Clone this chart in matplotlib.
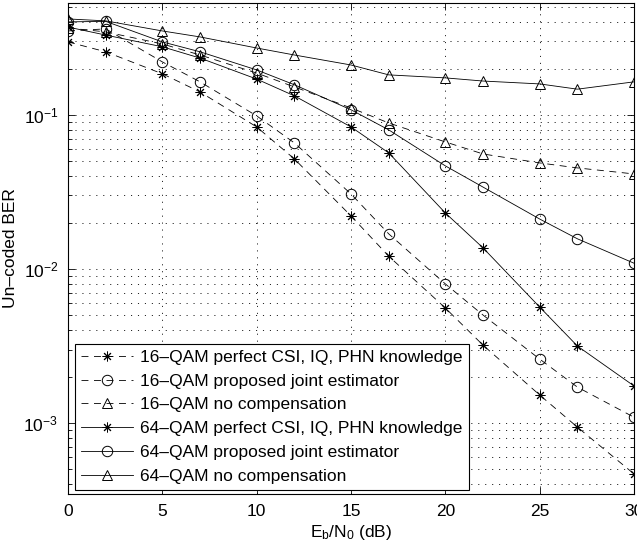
import numpy as np
import matplotlib
matplotlib.use('Agg')
import matplotlib.pyplot as plt

plt.rcParams['font.family'] = ['Liberation Sans', 'DejaVu Sans']
plt.rcParams['font.size'] = 12
plt.rcParams['lines.scale_dashes'] = False
plt.rcParams['mathtext.fontset'] = 'custom'
plt.rcParams['mathtext.rm'] = 'Liberation Sans'
plt.rcParams['mathtext.it'] = 'Liberation Sans'

ebn0 = [0, 2, 5, 7, 10, 12, 15, 17, 20, 22, 25, 27, 30]

# 16-QAM curves
qam16_perfect = [0.298, 0.257, 0.185, 0.141, 0.0836, 0.0518, 0.0221, 0.0121,
                 0.00558, 0.0032, 0.00152, 0.00094, 0.000467]
qam16_joint = [0.351, 0.362, 0.221, 0.164, 0.0986, 0.0658, 0.0307, 0.0169,
               0.0080, 0.00502, 0.0026, 0.00171, 0.00109]
qam16_nocomp = [0.367, 0.346, 0.289, 0.245, 0.187, 0.152, 0.111, 0.0887,
                0.0668, 0.0558, 0.0488, 0.0453, 0.0414]

# 64-QAM curves
qam64_perfect = [0.372, 0.330, 0.277, 0.234, 0.171, 0.133, 0.0836, 0.0567,
                 0.0231, 0.0137, 0.00566, 0.00316, 0.00174]
qam64_joint = [0.402, 0.405, 0.298, 0.257, 0.196, 0.157, 0.108, 0.080,
               0.0467, 0.034, 0.0211, 0.0157, 0.0109]
qam64_nocomp = [0.42, 0.408, 0.351, 0.321, 0.272, 0.245, 0.211, 0.182,
                0.174, 0.166, 0.159, 0.147, 0.164]

labels = ['16\u2013QAM perfect CSI, IQ, PHN knowledge',
          '16\u2013QAM proposed joint estimator',
          '16\u2013QAM no compensation',
          '64\u2013QAM perfect CSI, IQ, PHN knowledge',
          '64\u2013QAM proposed joint estimator',
          '64\u2013QAM no compensation']

fig = plt.figure(figsize=(6.37, 5.51), dpi=100)
ax = fig.add_axes([68 / 637, 1 - 494 / 551, 566 / 637, 491 / 551])

dash = (0, (5, 4))
star = (8, 2, 0)
common = dict(color='black', linewidth=0.6, markerfacecolor='none',
              markeredgecolor='black', markeredgewidth=0.7)

series = [
    (qam16_perfect, dash, star),
    (qam16_joint, dash, 'o'),
    (qam16_nocomp, dash, '^'),
    (qam64_perfect, '-', star),
    (qam64_joint, '-', 'o'),
    (qam64_nocomp, '-', '^'),
]
for (vals, ls, mk), lab in zip(series, labels):
    ms = 7 if mk == star else 7.5
    ax.semilogy(ebn0, vals, linestyle=ls, marker=mk, markersize=ms, label=lab, **common)

ax.set_xlim(0, 30)
ax.set_ylim(3.46e-4, 0.533)
ax.set_xticks([0, 5, 10, 15, 20, 25, 30])

ax.grid(True, which='major', linestyle=(0, (0.8, 4.2)), color='black', linewidth=0.6)
ax.grid(True, which='minor', axis='y', linestyle=(0, (0.8, 4.2)), color='black', linewidth=0.6)

ax.tick_params(which='both', direction='in', top=True, right=True, width=0.6)
ax.tick_params(which='major', length=5, pad=7, labelsize=12.5)
ax.tick_params(which='minor', length=3)
ax.tick_params(axis='x', which='minor', bottom=False, top=False)
for s in ax.spines.values():
    s.set_linewidth(0.8)

ax.set_xlabel(r'E$_\mathrm{b}$/N$_\mathrm{0}$ (dB)', fontsize=12.5, labelpad=3)
ax.set_ylabel('Un\u2013coded BER', fontsize=12.5, labelpad=4)

leg = ax.legend(loc='lower left', bbox_to_anchor=(7 / 566, 4 / 491), borderaxespad=0,
                fontsize=12.5, fancybox=False, framealpha=1, edgecolor='black',
                handlelength=3.0, labelspacing=0.5, handletextpad=0.4,
                borderpad=0.35)
leg.get_frame().set_linewidth(0.8)

fig.savefig('out.png', dpi=100)
